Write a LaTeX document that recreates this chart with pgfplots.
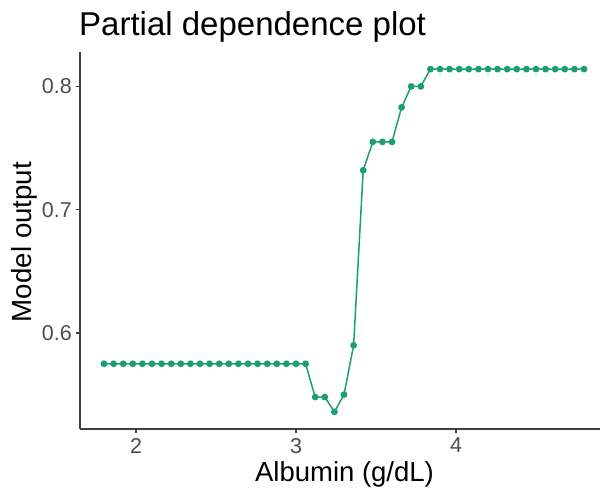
\documentclass[border=0pt]{standalone}
\usepackage{pgfplots}
\pgfplotsset{compat=1.18}
\usepackage{fontspec}
\setmainfont{Liberation Sans}
\definecolor{pdgreen}{HTML}{1B9E77}
\definecolor{ticktext}{HTML}{4D4D4D}
\begin{document}
\begin{tikzpicture}[x=1pt,y=1pt]
\useasboundingbox (0,0) rectangle (600,488);
\begin{axis}[
  at={(80pt,59pt)}, anchor=south west,
  scale only axis, width=520pt, height=377pt,
  xmin=1.65, xmax=4.9, ymin=0.5221, ymax=0.8279,
  axis x line*=bottom, axis y line*=left,
  axis line style={line width=1.1pt, black!75, -},
  xtick={2,3,4}, ytick={0.6,0.7,0.8},
  tick align=outside, major tick length=4pt,
  tick style={line width=1.1pt, black!75},
  /pgf/number format/assume math mode=true,
  yticklabel style={/pgf/number format/fixed, /pgf/number format/precision=1, /pgf/number format/fixed zerofill},
  tick label style={font=\fontsize{21.5}{26}\selectfont, text=ticktext, inner sep=0pt},
  xticklabel shift=5pt, yticklabel shift=4pt,
  clip=false,
]
\addplot[color=pdgreen, line width=1.5pt, mark=*, mark size=2.6pt, mark options={fill=pdgreen, draw=pdgreen}] coordinates {
(1.80,0.575)(1.86,0.575)(1.92,0.575)(1.98,0.575)(2.04,0.575)(2.10,0.575)(2.16,0.575)(2.22,0.575)(2.28,0.575)(2.34,0.575)
(2.40,0.575)(2.46,0.575)(2.52,0.575)(2.58,0.575)(2.64,0.575)(2.70,0.575)(2.76,0.575)(2.82,0.575)(2.88,0.575)(2.94,0.575)
(3.00,0.575)(3.06,0.575)(3.12,0.548)(3.18,0.548)(3.24,0.536)(3.30,0.550)(3.36,0.590)(3.42,0.732)(3.48,0.755)(3.54,0.755)
(3.60,0.755)(3.66,0.783)(3.72,0.800)(3.78,0.800)(3.84,0.814)(3.90,0.814)(3.96,0.814)(4.02,0.814)(4.08,0.814)(4.14,0.814)
(4.20,0.814)(4.26,0.814)(4.32,0.814)(4.38,0.814)(4.44,0.814)(4.50,0.814)(4.56,0.814)(4.62,0.814)(4.68,0.814)(4.74,0.814)
(4.80,0.814)
};
\end{axis}
\node[anchor=base west, inner sep=0pt, font=\fontsize{33}{40}\selectfont] at (79,452) {Partial dependence plot};
\node[anchor=base, inner sep=0pt, font=\fontsize{27.5}{33}\selectfont] at (344.5,7) {Albumin (g/dL)};
\node[anchor=base, rotate=90, inner sep=0pt, font=\fontsize{27.7}{33}\selectfont] at (31.7,246) {Model output};
\end{tikzpicture}
\end{document}
